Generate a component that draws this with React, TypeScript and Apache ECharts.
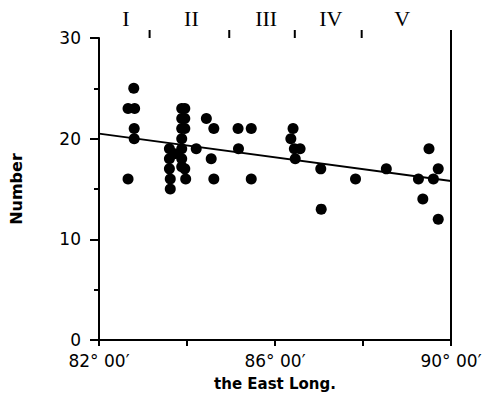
import React, { useEffect, useRef } from "react";
import * as echarts from "echarts";

const xTickLabels: Record<number, string> = { 82: "82° 00′", 86: "86° 00′", 90: "90° 00′" };
const regionBounds = [83.15, 84.96, 86.45, 87.97, 90];
const regionCenters = [82.61, 84.1, 85.8, 87.27, 88.89];
const regionNames = ["I", "II", "III", "IV", "V"];
const points: [number, number][] = [
  [82.66, 16], [82.66, 23], [82.81, 23], [82.79, 25], [82.8, 21], [82.8, 20],
  [83.6, 19], [83.6, 18], [83.6, 17], [83.62, 16], [83.62, 15],
  [83.72, 18.5],
  [83.88, 23], [83.88, 22], [83.88, 21], [83.88, 20], [83.88, 19], [83.88, 18], [83.88, 17.2],
  [83.95, 23], [83.95, 22], [83.95, 21], [83.95, 17], [83.97, 16],
  [84.21, 19], [84.44, 22], [84.61, 21], [84.55, 18], [84.61, 16],
  [85.16, 21], [85.46, 21], [85.17, 19], [85.46, 16],
  [86.41, 21], [86.36, 20], [86.44, 19], [86.57, 19], [86.46, 18],
  [87.04, 17], [87.05, 13], [87.83, 16], [88.53, 17],
  [89.26, 16], [89.5, 19], [89.6, 16], [89.71, 17], [89.36, 14], [89.71, 12],
];
const trendLine: [number, number][] = [[82, 20.5], [90, 15.8]];

export default function App() {
  const ref = useRef<HTMLDivElement>(null);
  useEffect(() => {
    document.body.style.margin = "0";
    const chart = echarts.init(ref.current!, undefined, { renderer: "svg" });
    const font = "DejaVu Sans";
    chart.setOption({
      animation: false,
      backgroundColor: "#fff",
      grid: { left: 97, right: 34, top: 38, bottom: 73 },
      xAxis: [
        {
          type: "value",
          min: 82,
          max: 90,
          interval: 2,
          position: "bottom",
          splitLine: { show: false },
          axisLine: { lineStyle: { color: "#000", width: 2 } },
          axisTick: { length: 6, lineStyle: { color: "#000", width: 2 } },
          axisLabel: {
            color: "#000",
            fontFamily: font,
            fontSize: 17,
            margin: 12,
            formatter: (v: number) => xTickLabels[v] ?? "",
          },
          name: "the East Long.",
          nameLocation: "middle",
          nameGap: 36,
          nameTextStyle: { color: "#000", fontFamily: font, fontSize: 15, fontWeight: "bold" },
        },
        {
          type: "value",
          min: 82,
          max: 90,
          position: "top",
          splitLine: { show: false },
          axisLine: { lineStyle: { color: "#000", width: 2 } },
          axisTick: { show: false },
          axisLabel: {
            color: "#000",
            fontFamily: "Liberation Serif",
            fontSize: 22,
            margin: 9,
            customValues: regionCenters,
            formatter: (v: number) => {
              const i = regionCenters.indexOf(v);
              return i >= 0 ? regionNames[i] : "";
            },
          },
        },
      ],
      yAxis: [
        {
          type: "value",
          min: 0,
          max: 30,
          interval: 10,
          splitLine: { show: false },
          axisLine: { show: true, lineStyle: { color: "#000", width: 2 } },
          axisTick: { show: true, length: 9, lineStyle: { color: "#000", width: 2 } },
          minorTick: { show: true, splitNumber: 2, length: 5, lineStyle: { color: "#000", width: 2 } },
          axisLabel: { color: "#000", fontFamily: font, fontSize: 17, margin: 18 },
          name: "Number",
          nameLocation: "middle",
          nameGap: 75,
          nameTextStyle: { color: "#000", fontFamily: font, fontSize: 16, fontWeight: "bold" },
        },
        {
          type: "value",
          min: 0,
          max: 30,
          position: "right",
          splitLine: { show: false },
          axisLine: { show: true, lineStyle: { color: "#000", width: 2 } },
          axisTick: { show: false },
          axisLabel: { show: false },
        },
      ],
      series: [
        {
          type: "scatter",
          data: points,
          symbolSize: 11,
          itemStyle: { color: "#000", opacity: 1 },
        },
        {
          type: "line",
          data: trendLine,
          showSymbol: false,
          symbol: "none",
          lineStyle: { color: "#000", width: 2 },
          z: 1,
        },
      ],
    });
    const topY = chart.convertToPixel({ yAxisIndex: 0 }, 30) as number;
    chart.setOption({
      graphic: regionBounds.map((v) => {
        const x = chart.convertToPixel({ xAxisIndex: 0 }, v) as number;
        return {
          type: "line",
          shape: { x1: x, y1: topY, x2: x, y2: topY - 8 },
          style: { stroke: "#000", lineWidth: 2 },
        };
      }),
    });
    return () => chart.dispose();
  }, []);
  return <div ref={ref} style={{ width: 485, height: 413 }} />;
}
